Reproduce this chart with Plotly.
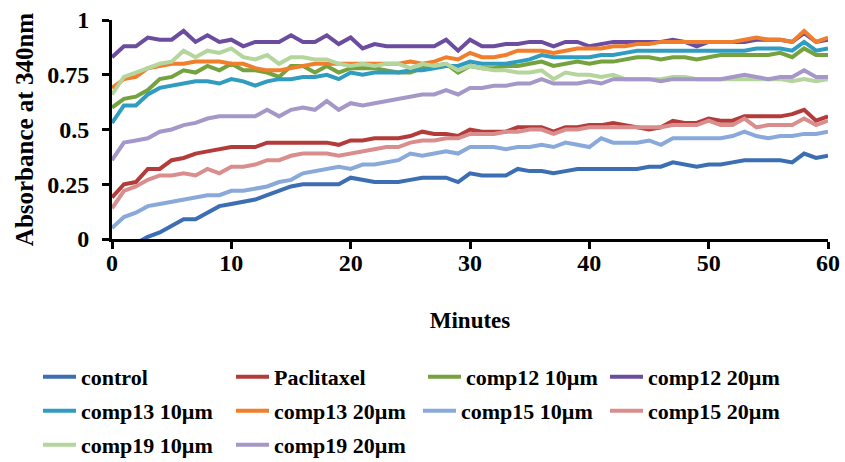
import plotly.graph_objects as go

minutes = list(range(61))

control = [-0.08, -0.05, -0.02, 0.01, 0.03, 0.06, 0.09, 0.09, 0.12, 0.15, 0.16, 0.17, 0.18, 0.20, 0.22, 0.24,
           0.25, 0.25, 0.25, 0.25, 0.28, 0.27, 0.26, 0.26, 0.26, 0.27, 0.28, 0.28, 0.28, 0.26, 0.30, 0.29,
           0.29, 0.29, 0.32, 0.31, 0.31, 0.30, 0.31, 0.32, 0.32, 0.32, 0.32, 0.32, 0.32, 0.33, 0.33, 0.35,
           0.34, 0.33, 0.34, 0.34, 0.35, 0.36, 0.36, 0.36, 0.36, 0.35, 0.39, 0.37, 0.38]
paclitaxel = [0.19, 0.25, 0.26, 0.32, 0.32, 0.36, 0.37, 0.39, 0.40, 0.41, 0.42, 0.42, 0.42, 0.44, 0.44, 0.44,
              0.44, 0.44, 0.44, 0.43, 0.45, 0.45, 0.46, 0.46, 0.46, 0.47, 0.49, 0.48, 0.48, 0.47, 0.50, 0.49,
              0.49, 0.49, 0.51, 0.51, 0.51, 0.49, 0.51, 0.51, 0.52, 0.52, 0.53, 0.52, 0.51, 0.50, 0.51, 0.54,
              0.53, 0.53, 0.55, 0.54, 0.54, 0.56, 0.56, 0.56, 0.56, 0.57, 0.59, 0.54, 0.56]
comp12_10 = [0.60, 0.64, 0.65, 0.68, 0.73, 0.74, 0.77, 0.76, 0.79, 0.77, 0.80, 0.77, 0.77, 0.76, 0.74, 0.79,
             0.79, 0.76, 0.79, 0.76, 0.78, 0.78, 0.78, 0.77, 0.76, 0.76, 0.78, 0.79, 0.80, 0.76, 0.79, 0.78,
             0.78, 0.79, 0.79, 0.80, 0.81, 0.79, 0.80, 0.81, 0.80, 0.81, 0.81, 0.82, 0.83, 0.83, 0.82, 0.83,
             0.83, 0.82, 0.83, 0.84, 0.84, 0.84, 0.84, 0.84, 0.85, 0.83, 0.87, 0.84, 0.84]
comp12_20 = [0.83, 0.88, 0.88, 0.92, 0.91, 0.91, 0.95, 0.90, 0.93, 0.90, 0.91, 0.88, 0.90, 0.90, 0.90, 0.93,
             0.90, 0.90, 0.93, 0.89, 0.92, 0.87, 0.89, 0.88, 0.88, 0.88, 0.88, 0.88, 0.91, 0.86, 0.91, 0.88,
             0.88, 0.89, 0.89, 0.90, 0.90, 0.88, 0.90, 0.90, 0.88, 0.89, 0.90, 0.90, 0.90, 0.90, 0.90, 0.91,
             0.90, 0.88, 0.90, 0.90, 0.90, 0.90, 0.91, 0.91, 0.91, 0.90, 0.94, 0.90, 0.91]
comp13_10 = [0.53, 0.61, 0.61, 0.66, 0.69, 0.70, 0.71, 0.72, 0.72, 0.71, 0.73, 0.72, 0.70, 0.72, 0.73, 0.73,
             0.74, 0.74, 0.75, 0.73, 0.76, 0.75, 0.76, 0.76, 0.76, 0.77, 0.77, 0.78, 0.79, 0.79, 0.81, 0.80,
             0.80, 0.80, 0.81, 0.82, 0.84, 0.83, 0.83, 0.83, 0.83, 0.84, 0.84, 0.85, 0.86, 0.86, 0.86, 0.86,
             0.86, 0.86, 0.86, 0.86, 0.86, 0.86, 0.87, 0.87, 0.87, 0.86, 0.90, 0.86, 0.87]
comp13_20 = [0.69, 0.73, 0.74, 0.78, 0.79, 0.80, 0.80, 0.81, 0.81, 0.81, 0.80, 0.80, 0.78, 0.77, 0.77, 0.78,
             0.79, 0.80, 0.80, 0.80, 0.80, 0.80, 0.80, 0.80, 0.80, 0.81, 0.80, 0.81, 0.83, 0.82, 0.85, 0.83,
             0.83, 0.84, 0.86, 0.86, 0.86, 0.85, 0.86, 0.87, 0.87, 0.87, 0.88, 0.88, 0.89, 0.89, 0.90, 0.90,
             0.90, 0.90, 0.90, 0.90, 0.90, 0.91, 0.92, 0.91, 0.91, 0.90, 0.95, 0.90, 0.92]
comp15_10 = [0.05, 0.10, 0.12, 0.15, 0.16, 0.17, 0.18, 0.19, 0.20, 0.20, 0.22, 0.22, 0.23, 0.24, 0.26, 0.27,
             0.30, 0.31, 0.32, 0.33, 0.32, 0.34, 0.34, 0.35, 0.36, 0.39, 0.38, 0.39, 0.40, 0.39, 0.42, 0.42,
             0.42, 0.41, 0.42, 0.42, 0.43, 0.42, 0.44, 0.43, 0.42, 0.46, 0.44, 0.44, 0.44, 0.45, 0.43, 0.46,
             0.46, 0.46, 0.46, 0.46, 0.47, 0.49, 0.47, 0.46, 0.47, 0.47, 0.48, 0.48, 0.49]
comp15_20 = [0.14, 0.22, 0.24, 0.27, 0.29, 0.29, 0.30, 0.29, 0.32, 0.30, 0.33, 0.33, 0.34, 0.36, 0.36, 0.38,
             0.39, 0.39, 0.39, 0.38, 0.39, 0.40, 0.41, 0.42, 0.42, 0.44, 0.45, 0.45, 0.46, 0.46, 0.48, 0.48,
             0.48, 0.49, 0.49, 0.50, 0.50, 0.48, 0.50, 0.50, 0.51, 0.51, 0.51, 0.51, 0.51, 0.51, 0.51, 0.52,
             0.52, 0.52, 0.54, 0.52, 0.52, 0.55, 0.51, 0.52, 0.52, 0.52, 0.55, 0.52, 0.54]
comp19_10 = [0.66, 0.74, 0.76, 0.78, 0.80, 0.81, 0.86, 0.83, 0.86, 0.85, 0.87, 0.83, 0.82, 0.84, 0.80, 0.83,
             0.83, 0.82, 0.82, 0.80, 0.79, 0.80, 0.79, 0.80, 0.80, 0.78, 0.80, 0.79, 0.80, 0.77, 0.79, 0.78,
             0.77, 0.77, 0.76, 0.76, 0.77, 0.73, 0.76, 0.75, 0.75, 0.74, 0.75, 0.73, 0.73, 0.73, 0.73, 0.74,
             0.74, 0.73, 0.73, 0.73, 0.73, 0.73, 0.73, 0.73, 0.73, 0.72, 0.73, 0.72, 0.73]
comp19_20 = [0.36, 0.44, 0.45, 0.46, 0.49, 0.50, 0.52, 0.53, 0.55, 0.56, 0.56, 0.56, 0.56, 0.59, 0.56, 0.59,
             0.60, 0.59, 0.63, 0.59, 0.62, 0.61, 0.62, 0.63, 0.64, 0.65, 0.66, 0.66, 0.68, 0.66, 0.69, 0.69,
             0.70, 0.70, 0.71, 0.71, 0.73, 0.71, 0.71, 0.71, 0.72, 0.71, 0.73, 0.73, 0.73, 0.73, 0.72, 0.73,
             0.73, 0.73, 0.73, 0.73, 0.74, 0.75, 0.74, 0.73, 0.74, 0.74, 0.77, 0.74, 0.74]

series_names = ["control", "Paclitaxel", "comp12 10µm", "comp12 20µm", "comp13 10µm",
                "comp13 20µm", "comp15 10µm", "comp15 20µm", "comp19 10µm", "comp19 20µm"]
series_values = [control, paclitaxel, comp12_10, comp12_20, comp13_10,
                 comp13_20, comp15_10, comp15_20, comp19_10, comp19_20]
colors = ["#3C6EB4", "#B33C3A", "#74A23F", "#6B4C9F", "#2F9CC0",
          "#F07E2A", "#88A9DA", "#D98E8D", "#B4D59C", "#A697C9"]

y_tick_vals = [0, 0.25, 0.5, 0.75, 1]
y_tick_text = ["0", "0.25", "0.5", "0.75", "1"]

FONT = "Liberation Serif"
ML, MR, MT, MB = 112, 17, 20, 223
W, H = 845, 462
PW = W - ML - MR
PH = H - MT - MB

# legend slot positions (pixel x of line start, pixel y of row centre)
leg_px = [45, 238, 430, 612, 45, 238, 425, 612, 45, 238]
leg_py = [377, 377, 377, 377, 411, 411, 411, 411, 445, 445]

fig = go.Figure()
layout_legends = {}
for i, (name, vals, col) in enumerate(zip(series_names, series_values, colors)):
    lg = "legend" if i == 0 else f"legend{i+1}"
    fig.add_trace(go.Scatter(x=minutes, y=vals, mode="lines", name=name,
                             line=dict(color=col, width=4), legend=lg))
    layout_legends[lg] = dict(
        x=(leg_px[i] - 7 - ML) / PW, xanchor="left",
        y=(MT + PH - leg_py[i]) / PH, yanchor="middle",
        orientation="h", bgcolor="rgba(0,0,0,0)", borderwidth=0,
        font=dict(family=FONT, size=22, color="black", weight="bold"),
        itemwidth=33, itemclick=False,
    )

fig.update_layout(
    width=W, height=H,
    margin=dict(l=ML, r=MR, t=MT, b=MB, autoexpand=False),
    paper_bgcolor="white", plot_bgcolor="white",
    showlegend=True,
    font=dict(family=FONT, size=22, color="black", weight="bold"),
    **layout_legends,
)
fig.update_xaxes(
    range=[0, 60], dtick=10, tick0=0, automargin=False,
    showline=True, linecolor="black", linewidth=3,
    ticks="outside", ticklen=7, tickwidth=2.5, tickcolor="black",
    showgrid=False, zeroline=False,
    tickfont=dict(family=FONT, size=24, color="black", weight="bold"),
    ticklabelstandoff=-7,
    title=dict(text="Minutes", font=dict(family=FONT, size=23, color="black", weight="bold"), standoff=38),
)
fig.update_yaxes(
    range=[0, 1], tickvals=y_tick_vals, ticktext=y_tick_text, automargin=False,
    showline=True, linecolor="black", linewidth=3,
    ticks="outside", ticklen=7, tickwidth=2.5, tickcolor="black",
    showgrid=False, zeroline=False,
    tickfont=dict(family=FONT, size=24, color="black", weight="bold"),
    ticklabelstandoff=8,
    title=dict(text="Absorbance at 340nm", font=dict(family=FONT, size=25, color="black", weight="bold"), standoff=7),
)

fig.write_html("out.html",
               config={"displayModeBar": False},
               post_script="document.body.style.margin='0';document.body.style.overflow='hidden';")
